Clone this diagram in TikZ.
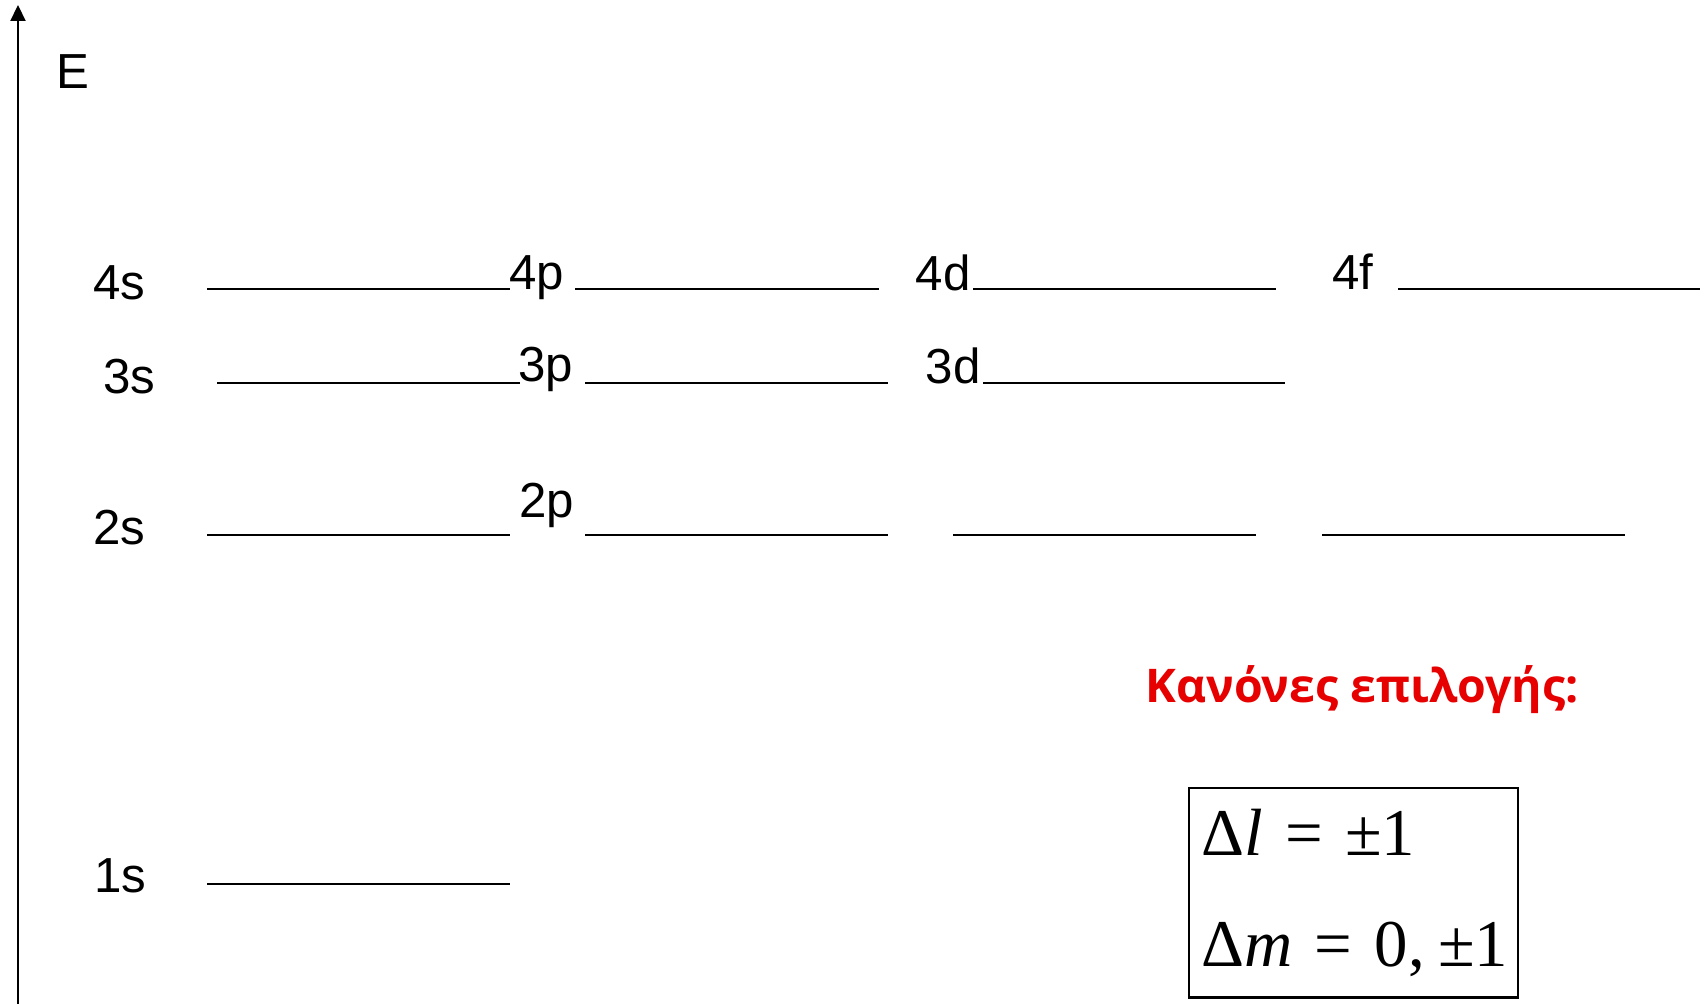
\documentclass[tikz,border=0pt]{standalone}
\usepackage{fontspec}
\setmainfont{Liberation Sans}
\newfontfamily\greekbold{Open Sans}
\newfontfamily\serifmath{Liberation Serif}
\usepackage{xcolor}
\usepackage{tikz}
\usetikzlibrary{arrows.meta}

\definecolor{rulered}{RGB}{230,0,0}

\begin{document}
\begin{tikzpicture}[
    x=0.01cm, y=-0.01cm,
    >={Triangle[width=1.5mm, length=1.6mm]},
    axis/.style={->, line width=0.6pt},
    level/.style={line width=0.6pt, draw=black},
    orbital/.style={anchor=base, inner sep=0pt, font=\fontsize{14}{17}\selectfont},
    rulebox/.style={rectangle, draw=black, line width=0.6pt, minimum width=3.28cm, minimum height=2.09cm, inner sep=0pt},
    formula/.style={anchor=base west, inner sep=0pt, font=\serifmath\fontsize{19}{23}\selectfont},
    title/.style={anchor=base west, inner sep=0pt, text=rulered, font=\greekbold\bfseries\fontsize{13.2}{16}\selectfont}
]
\useasboundingbox (0,0) rectangle (1708,1004);

% Energy axis
\coordinate (axisbot) at (18,1004);
\coordinate (axistop) at (18,5);
\draw[axis] (axisbot) -- (axistop);
\node[font=\fontsize{14}{17}\selectfont, inner sep=0pt] (E) at (73,72) {E};

% n = 4
\draw[level] (207,289) -- (510,289);
\draw[level] (575,289) -- (879,289);
\draw[level] (973,289) -- (1276,289);
\draw[level] (1398,289) -- (1700,289);
\node[orbital] (l4s) at (119,300) {4s};
\node[orbital] (l4p) at (537,290) {4p};
\node[orbital] (l4d) at (943,291) {4d};
\node[orbital] (l4f) at (1353,290) {4f};

% n = 3
\draw[level] (217,383) -- (520,383);
\draw[level] (585,383) -- (888,383);
\draw[level] (983,383) -- (1285,383);
\node[orbital] (l3s) at (129,394) {3s};
\node[orbital] (l3p) at (546,382) {3p};
\node[orbital] (l3d) at (953,384) {3d};

% n = 2
\draw[level] (207,535) -- (510,535);
\draw[level] (585,535) -- (888,535);
\draw[level] (953,535) -- (1256,535);
\draw[level] (1322,535) -- (1625,535);
\node[orbital] (l2s) at (119,545) {2s};
\node[orbital] (l2p) at (547,518) {2p};

% n = 1
\draw[level] (207,884) -- (510,884);
\node[orbital] (l1s) at (120,893) {1s};

% Selection rules
\node[title] (rulestitle) at (1145,703) {Κανόνες επιλογής:};
\node[rulebox] (rules) at (1353.5,893) {};
\node[formula] (dl) at (1201,856) {Δ\textit{l}\hspace{0.33em}=\hspace{0.33em}±1};
\node[formula] (dm) at (1201,967) {Δ\textit{m}\hspace{0.33em}=\hspace{0.33em}0,\hspace{0.2em}±1};

\end{tikzpicture}
\end{document}
